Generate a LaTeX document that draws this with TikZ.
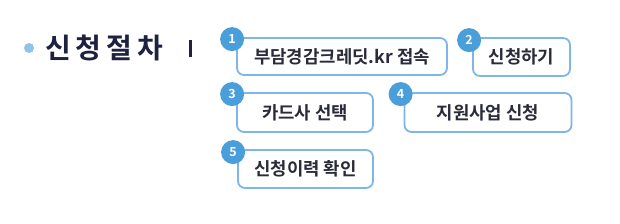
\documentclass[tikz,border=0pt]{standalone}
\usepackage{fontspec}
\setmainfont{Noto Sans CJK KR}[BoldFont={Noto Sans CJK KR Bold}]
\definecolor{boxline}{HTML}{7DB6E8}
\definecolor{numfill}{HTML}{4A9FDB}
\definecolor{bullet}{HTML}{8FC3EA}
\definecolor{titlec}{HTML}{1E2140}
\definecolor{textc}{HTML}{2A2B3A}
\begin{document}
\begin{tikzpicture}[x=1pt,y=-1pt,
  stepbox/.style={draw=boxline, line width=1.8pt, fill=white, rounded corners=7pt, inner sep=0pt, text=textc, font=\fontsize{17.8}{17.8}\selectfont\bfseries},
  numdot/.style={circle, fill=numfill, minimum size=24pt, inner sep=0pt, text=white, font=\fontsize{12.5}{12.5}\selectfont\bfseries}]
\useasboundingbox (0,0) rectangle (620,224);
\fill[bullet] (29,48) circle (5);
\node[anchor=west, text=titlec, font=\fontsize{28}{28}\selectfont\bfseries, inner sep=0pt] (title) at (45,48) {신\hspace{5pt}청\hspace{5pt}절\hspace{5pt}차};
\fill[titlec] (188.5,40) rectangle (191.5,57);
% boxes
\node[stepbox, minimum width=210pt, minimum height=37pt] (b1) at (342,56.5) {부담경감크레딧.kr 접속};
\node[stepbox, minimum width=97pt, minimum height=38pt] (b2) at (521.5,57) {신청하기};
\node[stepbox, minimum width=136pt, minimum height=39pt] (b3) at (305,112.5) {카드사 선택};
\node[stepbox, minimum width=167pt, minimum height=39pt] (b4) at (488,112.5) {지원사업 신청};
\node[stepbox, minimum width=135pt, minimum height=38pt] (b5) at (305.5,169) {신청이력 확인};
% numbers
\node[numdot] (n1) at ([xshift=-4pt,yshift=-2pt]b1.north west) {1};
\node[numdot] (n2) at ([xshift=-3pt,yshift=-3pt]b2.north west) {2};
\node[numdot] (n3) at ([xshift=-4pt,yshift=-2pt]b3.north west) {3};
\node[numdot] (n4) at ([xshift=-3pt,yshift=-2pt]b4.north west) {4};
\node[numdot] (n5) at ([xshift=-4pt,yshift=-3pt]b5.north west) {5};
\end{tikzpicture}
\end{document}
